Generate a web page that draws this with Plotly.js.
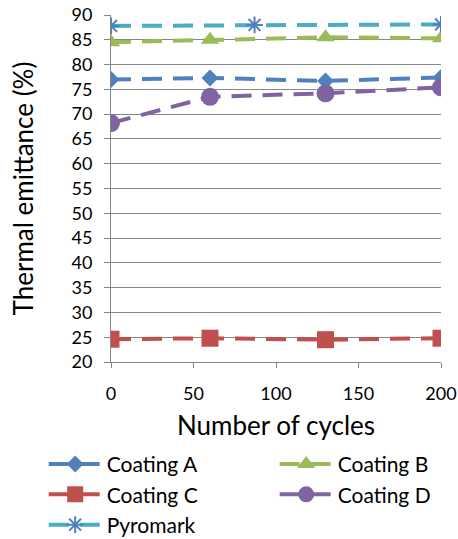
<!DOCTYPE html>
<html><head><meta charset="utf-8">
<script src="https://cdn.plot.ly/plotly-3.0.1.min.js"></script>
<style>html,body{margin:0;padding:0;background:#fff}#c{width:458px;height:539px}</style>
</head><body><div id="c"></div>
<script>
const cycles = [0, 60, 130, 200];
const coatingA = [77.0, 77.3, 76.7, 77.4];
const coatingB = [84.5, 85.0, 85.5, 85.3];
const coatingC = [24.6, 24.8, 24.5, 24.8];
const coatingD = [68.2, 73.5, 74.2, 75.4];
const pyroCycles = [0, 87, 200];
const pyromark = [87.8, 88.0, 88.1];
const xTicks = [0, 50, 100, 150, 200];
const yTicks = [20, 25, 30, 35, 40, 45, 50, 55, 60, 65, 70, 75, 80, 85, 90];

const dash = '20px,11px';
function tr(name, x, y, color, sym, size, leg, mcolor, mline) {
  return {
    type: 'scatter', mode: 'lines+markers', name: name, x: x, y: y, legend: leg,
    line: {color: color, width: 4, dash: dash},
    marker: {symbol: sym, size: size, color: mcolor || color,
             line: mline || {width: 0}}
  };
}
const data = [
  tr('Coating A', cycles, coatingA, '#4F81BD', 'diamond', 13, 'legend'),
  tr('Coating B', cycles, coatingB, '#9BBB59', 'triangle-up', 16, 'legend2'),
  tr('Coating C', cycles, coatingC, '#C0504D', 'square', 17, 'legend'),
  tr('Coating D', cycles, coatingD, '#8064A2', 'circle', 18, 'legend2'),
  tr('Pyromark', pyroCycles, pyromark, '#4BACC6', 'asterisk-open', 14, 'legend', '#4F81BD', {color: '#4F81BD', width: 2})
];
const fnt = {family: 'Lato, "Open Sans", sans-serif', color: '#000'};
const legBase = {
  orientation: 'v', xanchor: 'left', yanchor: 'top', y: -0.236,
  tracegroupgap: 0, font: Object.assign({size: 21}, fnt), itemwidth: 53,
  bgcolor: 'rgba(0,0,0,0)', traceorder: 'normal'
};
const layout = {
  width: 458, height: 539,
  margin: {l: 111, r: 17, t: 15, b: 177, autoexpand: false},
  paper_bgcolor: '#fff', plot_bgcolor: '#fff',
  font: Object.assign({size: 18}, fnt),
  showlegend: true,
  xaxis: {
    range: [0, 200], tickvals: xTicks, ticktext: xTicks.map(String), automargin: false,
    showgrid: false, zeroline: false, showline: true, linecolor: '#868686', linewidth: 1,
    ticks: 'outside', ticklen: 5, tickcolor: '#868686', ticklabelstandoff: 10,
    tickfont: Object.assign({size: 18}, fnt),
    title: {text: 'Number of cycles', font: Object.assign({size: 26}, fnt), standoff: 14}
  },
  yaxis: {
    range: [20, 90], tickvals: yTicks, ticktext: yTicks.map(String), automargin: false,
    showgrid: true, gridcolor: '#868686', gridwidth: 1, zeroline: false,
    showline: true, linecolor: '#868686', linewidth: 1,
    ticks: 'outside', ticklen: 6, tickcolor: '#868686', ticklabelstandoff: 8,
    tickfont: Object.assign({size: 18}, fnt),
    title: {text: 'Thermal emittance (%)', font: Object.assign({size: 26}, fnt), standoff: 30}
  },
  legend: Object.assign({}, legBase, {x: -0.204}),
  legend2: Object.assign({}, legBase, {x: 0.496})
};
Plotly.newPlot('c', data, layout, {displayModeBar: false, staticPlot: true});
</script></body></html>
